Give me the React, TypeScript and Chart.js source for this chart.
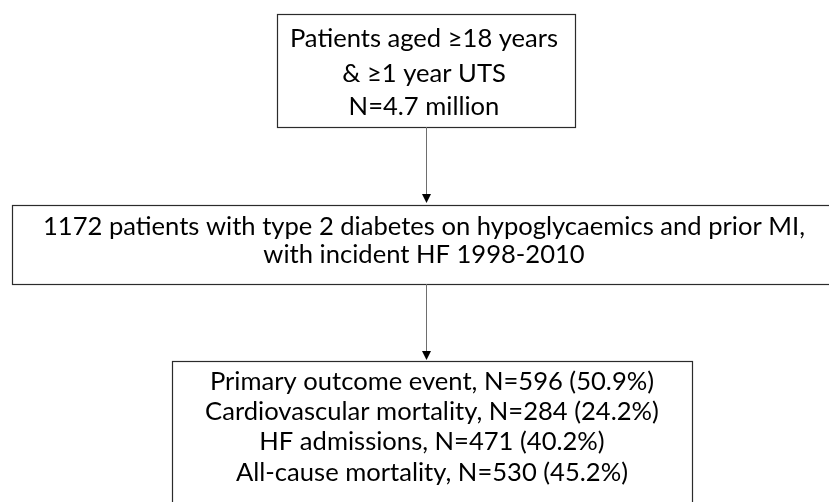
import React, { useEffect, useRef } from "react";
import { Chart, registerables } from "chart.js";

Chart.register(...registerables);

// ---- content (data) ----
const topBoxLines = ["Patients aged \u226518 years", "& \u22651 year UTS", "N=4.7 million"];
const cohortLines = [
  "1172 patients with type 2 diabetes on hypoglycaemics and prior MI,",
  "with incident HF 1998-2010",
];
const outcomeNames = ["Primary outcome event", "Cardiovascular mortality", "HF admissions", "All-cause mortality"];
const outcomeCounts = [596, 284, 471, 530];
const outcomePercents = [50.9, 24.2, 40.2, 45.2];

const outcomeLines = outcomeNames.map(
  (n, i) => `${n}, N=${outcomeCounts[i]} (${outcomePercents[i].toFixed(1)}%)`
);

// ---- layout (in scale units, 0..829 x 0..502) ----
const W = 829;
const H = 502;
const FONT_FAMILY = '"Lato", "Open Sans", "DejaVu Sans", sans-serif';
const FONT_SIZE = 25;
const REF_WIDTH = 762; // measured width of the widest line in the reference

const boxLayout = [
  { lines: topBoxLines, x0: 277, x1: 575, y0: 14, y1: 127, cx: 424, baselines: [47, 81.5, 114.5] },
  { lines: cohortLines, x0: 12, x1: 845, y0: 205, y1: 284, cx: 424, baselines: [235, 263] },
  { lines: outcomeLines, x0: 172, x1: 692, y0: 361, y1: 530, cx: 432, baselines: [390, 420, 450, 481] },
];
const arrowLayout = [
  { x: 426, y0: 127, y1: 204 },
  { x: 426, y0: 284, y1: 361 },
];

const flowPlugin = {
  id: "flow",
  afterDraw(chart: any) {
    const ctx: CanvasRenderingContext2D = chart.ctx;
    const xs = chart.scales.x;
    const ys = chart.scales.y;
    const px = (v: number) => xs.getPixelForValue(v);
    const py = (v: number) => ys.getPixelForValue(v);

    ctx.save();
    ctx.font = `${FONT_SIZE}px ${FONT_FAMILY}`;
    const sx = REF_WIDTH / ctx.measureText(cohortLines[0]).width;

    // boxes
    boxLayout.forEach((b) => {
      const l = Math.round(px(b.x0)) + 0.5;
      const r = Math.round(px(b.x1)) + 0.5;
      const t = Math.round(py(b.y0)) + 0.5;
      const bt = Math.round(py(b.y1)) + 0.5;
      ctx.strokeStyle = "#2b2b2b";
      ctx.lineWidth = 1.2;
      ctx.strokeRect(l, t, r - l, bt - t);

      ctx.fillStyle = "#000000";
      ctx.textAlign = "left";
      ctx.textBaseline = "alphabetic";
      b.lines.forEach((line, i) => {
        const w = ctx.measureText(line).width * sx;
        ctx.save();
        ctx.translate(px(b.cx) - w / 2, py(b.baselines[i]));
        ctx.scale(sx, 1);
        ctx.fillText(line, 0, 0);
        ctx.restore();
      });
    });

    // arrows
    arrowLayout.forEach((a) => {
      const x = Math.round(px(a.x)) + 0.5;
      const yTop = py(a.y0);
      const yTip = py(a.y1) - 1;
      ctx.strokeStyle = "#6e6e6e";
      ctx.lineWidth = 1;
      ctx.beginPath();
      ctx.moveTo(x, yTop);
      ctx.lineTo(x, yTip - 8);
      ctx.stroke();
      ctx.fillStyle = "#000000";
      ctx.beginPath();
      ctx.moveTo(x - 4.5, yTip - 9);
      ctx.lineTo(x + 4.5, yTip - 9);
      ctx.lineTo(x, yTip);
      ctx.closePath();
      ctx.fill();
    });
    ctx.restore();
  },
};

export default function App() {
  const canvasRef = useRef<HTMLCanvasElement | null>(null);

  useEffect(() => {
    document.body.style.margin = "0";
    const canvas = canvasRef.current;
    if (!canvas) return;
    const chart = new Chart(canvas, {
      type: "scatter",
      data: { datasets: [{ data: [] }] },
      options: {
        animation: false,
        responsive: true,
        maintainAspectRatio: false,
        layout: { padding: 0 },
        plugins: { legend: { display: false }, tooltip: { enabled: false } },
        scales: {
          x: { type: "linear", min: 0, max: W, display: false },
          y: { type: "linear", min: 0, max: H, reverse: true, display: false },
        },
      },
      plugins: [flowPlugin],
    });
    return () => chart.destroy();
  }, []);

  return (
    <div style={{ position: "absolute", left: 0, top: 0, width: W, height: H, background: "#ffffff" }}>
      <canvas ref={canvasRef} />
    </div>
  );
}
